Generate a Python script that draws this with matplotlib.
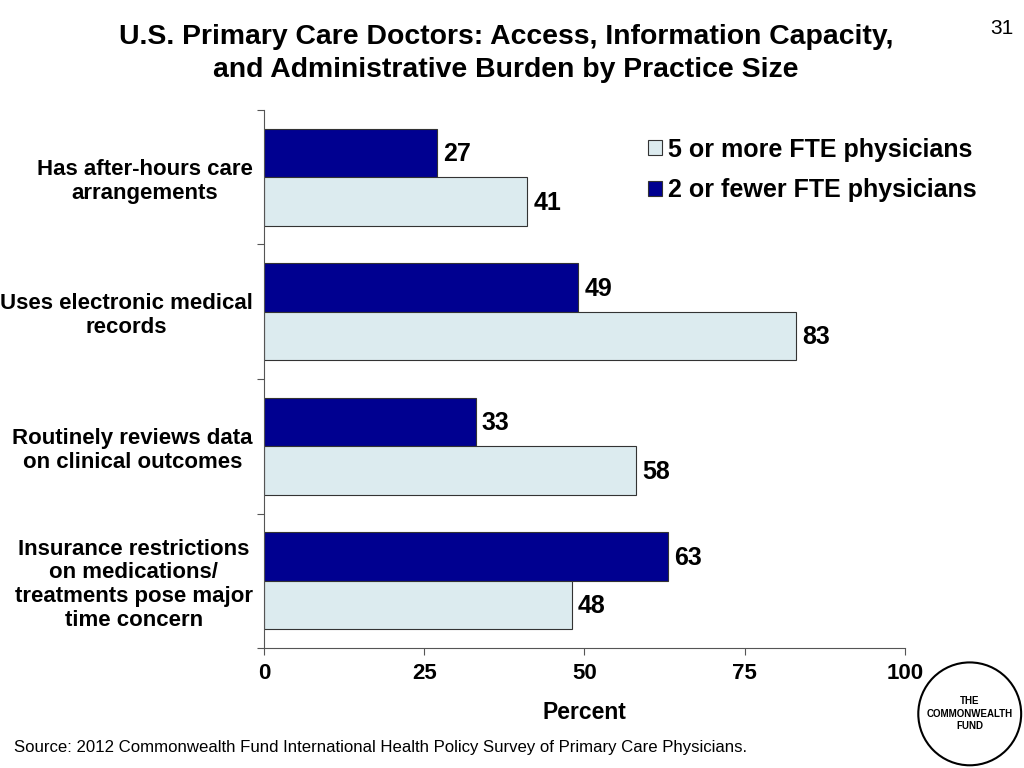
import numpy as np
import matplotlib
matplotlib.use('Agg')
import matplotlib.pyplot as plt
from matplotlib.patches import Circle

plt.rcParams['font.family'] = ['Liberation Sans', 'DejaVu Sans']

categories = ['Has after-hours care\narrangements',
              'Uses electronic medical\nrecords',
              'Routinely reviews data\non clinical outcomes',
              'Insurance restrictions\non medications/\ntreatments pose major\ntime concern']
small_practice = [27, 49, 33, 63]   # 2 or fewer FTE physicians
large_practice = [41, 83, 58, 48]   # 5 or more FTE physicians
xticks = [0, 25, 50, 75, 100]

dark = '#000090'
light = '#DCEBEF'

fig = plt.figure(figsize=(10.24, 7.68), dpi=100)
ax = fig.add_axes([0.2578, 0.156, 0.626, 0.701])

y = np.arange(len(categories))
h = 0.36
b1 = ax.barh(y - h / 2, small_practice, height=h, color=dark, edgecolor='#333333',
             linewidth=0.8, label='2 or fewer FTE physicians')
b2 = ax.barh(y + h / 2, large_practice, height=h, color=light, edgecolor='#333333',
             linewidth=0.8, label='5 or more FTE physicians')

for bars, vals in [(b1, small_practice), (b2, large_practice)]:
    for bar, v in zip(bars, vals):
        ax.text(v + 1.0, bar.get_y() + bar.get_height() / 2 + 0.01, str(v),
                va='center', ha='left', fontsize=18, fontweight='bold')

ax.set_ylim(len(categories) - 0.5, -0.5)
ax.set_xlim(0, 100)
ax.set_xticks(xticks)
ax.set_xticklabels([str(t) for t in xticks], fontsize=16, fontweight='bold')
ax.set_yticks(np.arange(-0.5, len(categories), 1.0))
ax.set_yticklabels([])
ax.set_yticks(y, minor=True)
ax.set_yticklabels(categories, minor=True, fontsize=16, fontweight='bold',
                   ha='right', multialignment='center', linespacing=1.18)
ax.tick_params(axis='y', which='minor', length=0, pad=8)
ax.tick_params(axis='y', which='major', length=5, color='#555555')
ax.tick_params(axis='x', length=5, color='#555555', pad=6)
ax.spines['top'].set_visible(False)
ax.spines['right'].set_visible(False)
ax.spines['left'].set_color('#555555')
ax.spines['bottom'].set_color('#555555')
ax.set_xlabel('Percent', fontsize=16.5, fontweight='bold', labelpad=12)

handles = [b2, b1]
ax.legend(handles, [h_.get_label() for h_ in handles], loc='upper left',
          bbox_to_anchor=(0.564, 0.99), frameon=False,
          prop={'size': 18, 'weight': 'bold'}, handlelength=0.55, handleheight=0.55,
          handletextpad=0.25, labelspacing=0.65)

fig.text(0.494, 0.930, 'U.S. Primary Care Doctors: Access, Information Capacity,\n'
         'and Administrative Burden by Practice Size',
         ha='center', va='center', fontsize=20.4, fontweight='bold', linespacing=1.36)
fig.text(0.99, 0.975, '31', ha='right', va='top', fontsize=15)
fig.text(0.014, 0.027, 'Source: 2012 Commonwealth Fund International Health Policy Survey of Primary Care Physicians.',
         ha='left', va='center', fontsize=12.1)

# logo
logo = fig.add_axes([0.894, 0.0, 0.106, 0.141])
logo.set_xlim(-1, 1)
logo.set_ylim(-1, 1)
logo.set_aspect('equal')
logo.axis('off')
logo.add_patch(Circle((0, 0), 0.95, fill=False, edgecolor='black', linewidth=1.5))
logo.text(0, 0.0, 'THE\nCOMMONWEALTH\nFUND', ha='center', va='center',
          fontsize=7, fontweight='bold', linespacing=1.3)

fig.savefig('out.png', dpi=100)
